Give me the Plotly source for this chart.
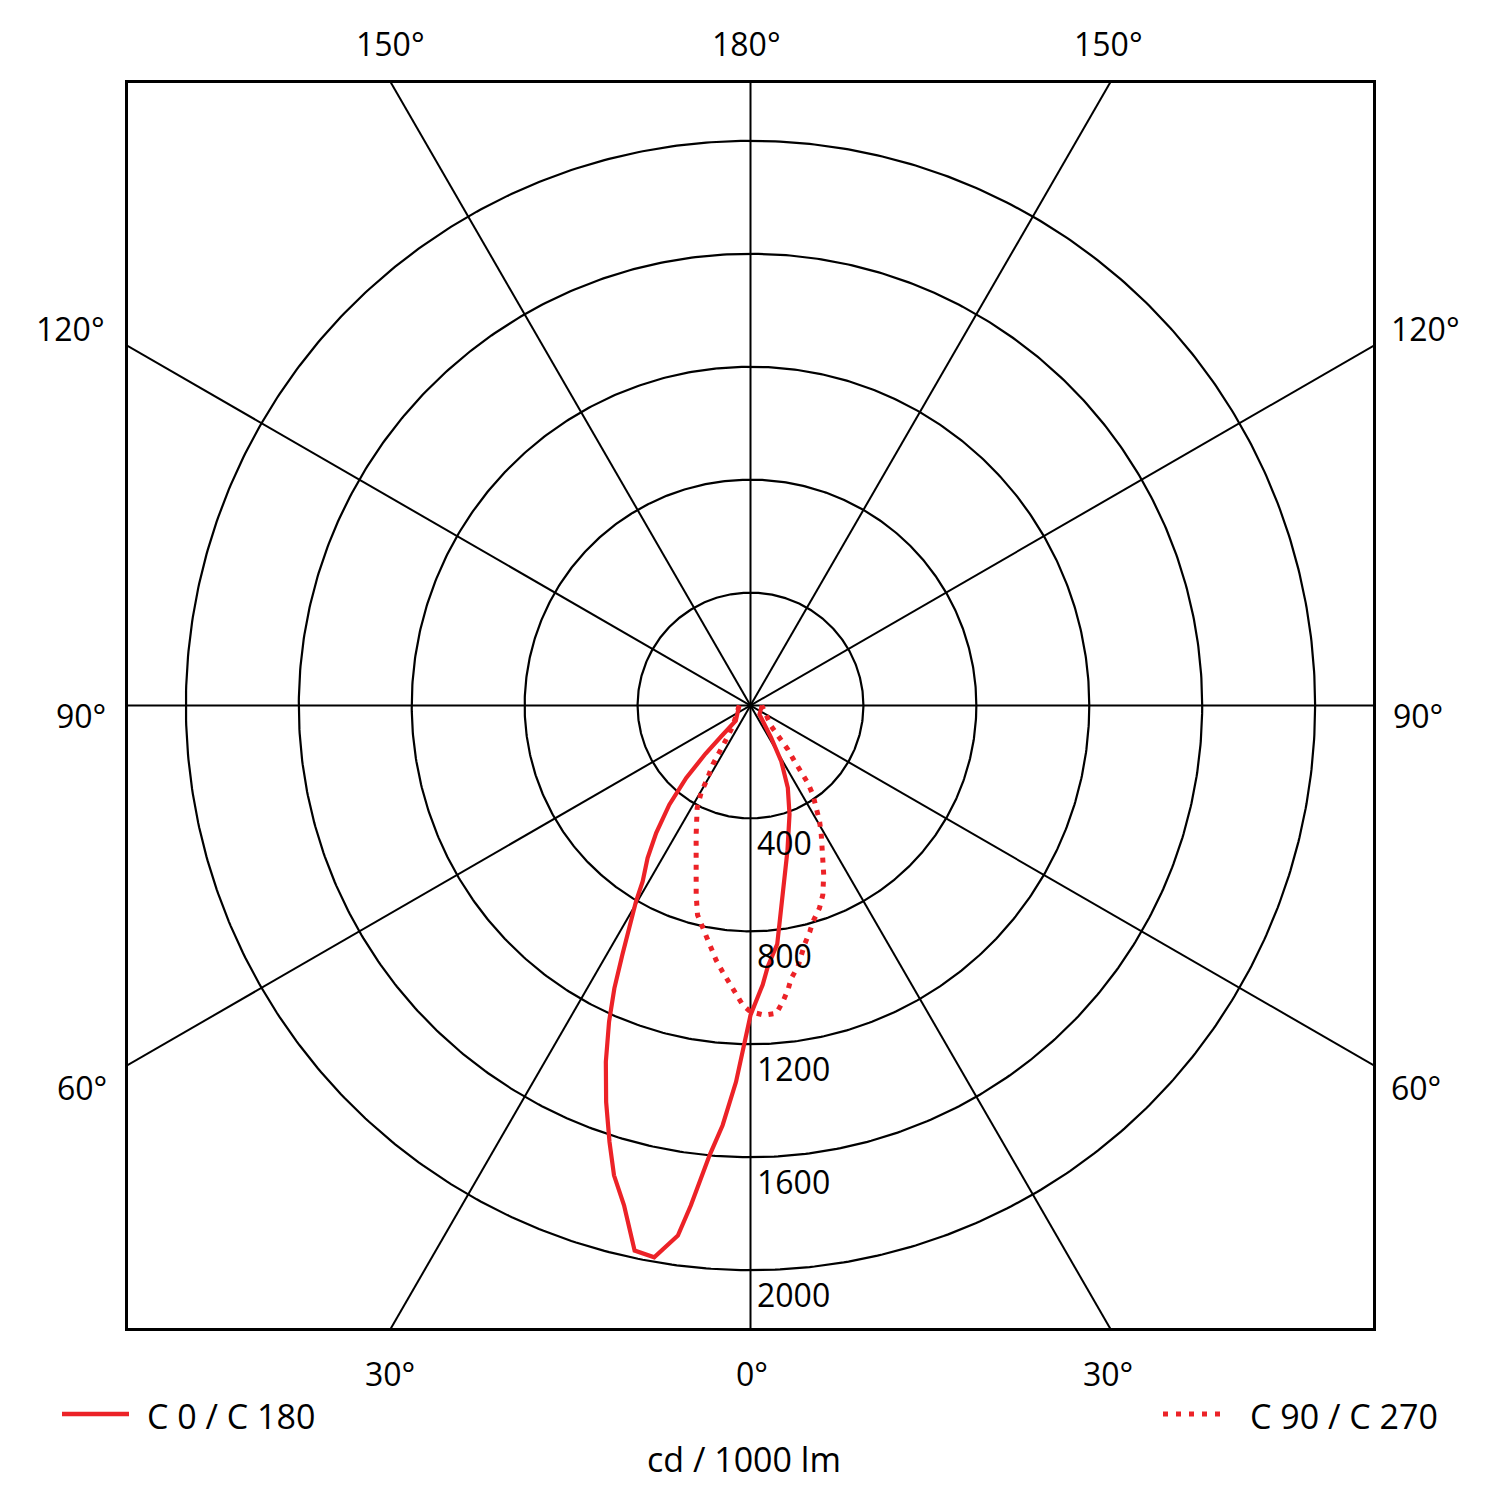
import numpy as np
import plotly.graph_objects as go

# ---------------- data (gamma angle in degrees, intensity in cd/1000 lm) ----------------
c180_gamma = [0, 1.0, 2.2, 3.8, 5.2, 6.8, 7.8, 9.9, 12.0, 14.2, 16.2, 17.9, 20.0, 22.1, 24.1,
              25.7, 27.2, 30.3, 31.5, 34.0, 36.5, 39.3, 41.6, 43.0, 43.5, 44.0, 90]
c180_int = [1097, 1203, 1334, 1490, 1600, 1783, 1895, 1984, 1974, 1826, 1733, 1625, 1495, 1362, 1227,
            1112, 993, 804, 731, 652, 562, 454, 343, 234, 150, 75, 40]

c0_gamma = [0, 2.5, 3.8, 6.4, 9.4, 14.3, 19.7, 24.4, 28.9, 32.7, 45, 90]
c0_int = [1097, 990, 926, 850, 690, 530, 410, 320, 225, 136, 45, 40]

c270_gamma = [0, 1.5, 2.8, 4.3, 6.0, 7.7, 10.4, 12.1, 14.2, 16.0, 17.8, 20.0, 22.8, 25.1, 27.5,
              29.5, 30.6, 32.6, 33.2, 35.6, 40.5, 90]
c270_int = [1085, 1061, 1027, 987, 948, 910, 838, 807, 765, 698, 630, 563, 497, 454, 409,
            356, 298, 248, 201, 148, 97, 40]

c90_gamma = [0, 2.6, 4.8, 6.2, 7.5, 8.5, 10.3, 12.7, 14.7, 16.1, 18.8, 20.9, 23.4, 25.9, 28.7,
             30.8, 32.7, 35.0, 36.5, 37.0, 38.3, 40.3, 41.9, 45, 90]
c90_int = [1085, 1098, 1094, 1056, 1016, 977, 940, 869, 828, 797, 758, 718, 653, 588, 522,
           478, 431, 385, 341, 299, 252, 205, 154, 104, 40]

ring_values = [400, 800, 1200, 1600, 2000]
ring_labels = ["400", "800", "1200", "1600", "2000"]
spoke_angles = [0, 30, 60, 90, 120, 150]

top_labels = ["150°", "180°", "150°"]
side_labels = ["120°", "90°", "60°"]
bottom_labels = ["30°", "0°", "30°"]
legend_names = ["C 0 / C 180", "C 90 / C 270"]
unit_label = "cd / 1000 lm"

R_MAX = 2205
RED = "#ec2227"
FAM = "Open Sans, Noto Sans, sans-serif"
FONT = dict(family=FAM, size=32, color="black")
FONT_L = dict(family=FAM, size=34, color="black")


def half(gamma, inten, side):
    g = np.radians(np.asarray(gamma, float))
    i = np.asarray(inten, float)
    return side * i * np.sin(g), -i * np.cos(g)


def closed_curve(lg, li, rg, ri):
    xl, yl = half(lg, li, -1)
    xr, yr = half(rg, ri, 1)
    return np.concatenate([xl[::-1], xr]), np.concatenate([yl[::-1], yr])


fig = go.Figure()

# rings
t = np.linspace(0, 2 * np.pi, 721)
rx, ry = [], []
for r in ring_values:
    rx += list(r * np.cos(t)) + [None]
    ry += list(r * np.sin(t)) + [None]
fig.add_trace(go.Scatter(x=rx, y=ry, mode="lines", line=dict(color="black", width=2.2),
                         hoverinfo="skip", showlegend=False))

# spokes
L = 4 * R_MAX
sx, sy = [], []
for a in spoke_angles:
    ar = np.radians(a)
    sx += [L * np.sin(ar), -L * np.sin(ar), None]
    sy += [-L * np.cos(ar), L * np.cos(ar), None]
fig.add_trace(go.Scatter(x=sx, y=sy, mode="lines", line=dict(color="black", width=2),
                         hoverinfo="skip", showlegend=False))

# curves
x1, y1 = closed_curve(c180_gamma, c180_int, c0_gamma, c0_int)
fig.add_trace(go.Scatter(x=x1, y=y1, mode="lines", name=legend_names[0],
                         line=dict(color=RED, width=4.2), showlegend=False))
x2, y2 = closed_curve(c270_gamma, c270_int, c90_gamma, c90_int)
fig.add_trace(go.Scatter(x=x2, y=y2, mode="lines", name=legend_names[1],
                         line=dict(color=RED, width=5, dash="5px,7px"), showlegend=False))

# ---------------- layout ----------------
OFF = 8                       # page body margin of the html page
W = H = 1500 - 2 * OFF
FL, FR, FT, FB = 128, 1373, 83, 1328   # frame in page pixels
ML, MT = FL - OFF, FT - OFF
PW, PH = FR - FL, FB - FT
MR = W - ML - PW
MB = H - MT - PH


def px(xp):
    return (xp - FL) / PW


def py(yp):
    return (FB - yp) / PH


ann = []
for lab, xp in zip(top_labels, [390, 746, 1108]):
    ann.append(dict(text=lab, x=px(xp), y=py(44)))
for lab, yp, xl, xr in zip(side_labels, [328, 716, 1087], [70, 81, 82], [1426, 1418, 1416]):
    ann.append(dict(text=lab, x=px(xl), y=py(yp)))
    ann.append(dict(text=lab, x=px(xr), y=py(yp)))
for lab, xp in zip(bottom_labels, [390, 752, 1108]):
    ann.append(dict(text=lab, x=px(xp), y=py(1373)))
annotations = []
for a in ann:
    d = dict(xref="paper", yref="paper", showarrow=False, font=FONT,
             xanchor="center", yanchor="middle")
    d.update(a)
    annotations.append(d)
for lab, xp, yp, xa in [(legend_names[0], 145, 1416, "left"),
                        (legend_names[1], 1248, 1416, "left"),
                        (unit_label, 744, 1459, "center")]:
    annotations.append(dict(text=lab, x=px(xp), y=py(yp), xref="paper", yref="paper",
                            showarrow=False, font=FONT_L, xanchor=xa, yanchor="middle"))
for v, lab in zip(ring_values, ring_labels):
    annotations.append(dict(text=lab, x=0, y=-v, xref="x", yref="y", showarrow=False,
                            xanchor="left", yanchor="top", xshift=4, yshift=-1, font=FONT))

shapes = [
    dict(type="line", xref="paper", yref="paper", x0=px(62), x1=px(129), y0=py(1414), y1=py(1414),
         line=dict(color=RED, width=4.5)),
    dict(type="line", xref="paper", yref="paper", x0=px(1163), x1=px(1228), y0=py(1414), y1=py(1414),
         line=dict(color=RED, width=5, dash="5px,8px")),
]

fig.update_layout(
    width=W, height=H,
    margin=dict(l=ML, r=MR, t=MT, b=MB, pad=0),
    paper_bgcolor="white", plot_bgcolor="white",
    xaxis=dict(range=[-R_MAX, R_MAX], showgrid=False, zeroline=False, showticklabels=False,
               ticks="", showline=True, mirror=True, linecolor="black", linewidth=3),
    yaxis=dict(range=[-R_MAX, R_MAX], showgrid=False, zeroline=False, showticklabels=False,
               ticks="", showline=True, mirror=True, linecolor="black", linewidth=3),
    annotations=annotations,
    shapes=shapes,
    showlegend=False,
)

fig.write_html("out.html")
